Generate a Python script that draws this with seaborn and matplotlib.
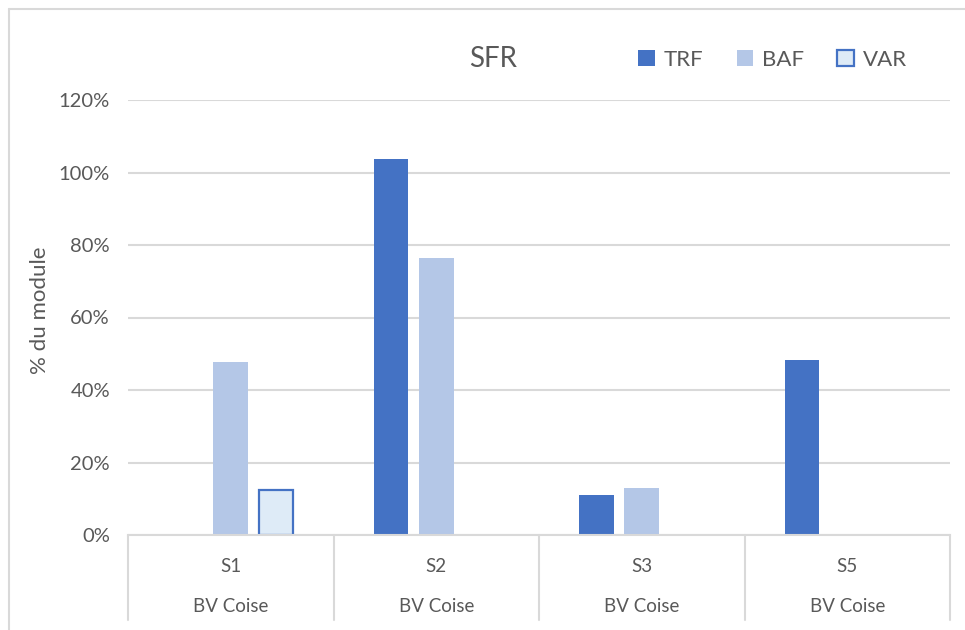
import numpy as np
import pandas as pd
import matplotlib
matplotlib.use("Agg")
import matplotlib.pyplot as plt
from matplotlib.lines import Line2D
from matplotlib.patches import Patch
from matplotlib.ticker import PercentFormatter
import matplotlib.transforms as mtransforms
import seaborn as sns

# ---- data ----
sites = ["S1", "S2", "S3", "S5"]
regions = ["BV Coise", "BV Coise", "BV Coise", "BV Coise"]
series = ["TRF", "BAF", "VAR"]
trf = [np.nan, 1.036, 0.109, 0.483]
baf = [0.476, 0.765, 0.129, np.nan]
var = [0.124, np.nan, np.nan, np.nan]
yticks = [0, 0.2, 0.4, 0.6, 0.8, 1.0, 1.2]

rows = []
for name, vals in zip(series, [trf, baf, var]):
    for s, v in zip(sites, vals):
        if not np.isnan(v):
            rows.append({"site": s, "series": name, "value": v})
df = pd.DataFrame(rows)

sns.set_style("white")
plt.rcParams["font.family"] = ["Lato", "DejaVu Sans"]
TXT = "#595959"
GRID = "#D9D9D9"
colors = {"TRF": "#4472C4", "BAF": "#B4C7E7", "VAR": "#DEEBF7"}

W, H = 965, 630
fig = plt.figure(figsize=(W / 100, H / 100), dpi=100)
fig.patch.set_facecolor("white")
L, R, T, B = 128, 950, 100, 535
ax = fig.add_axes([L / W, 1 - B / H, (R - L) / W, (B - T) / H])

sns.barplot(data=df, x="site", y="value", hue="series", order=sites,
            hue_order=series, palette=colors, width=0.66, gap=0.23,
            ax=ax, legend=False, saturation=1, errorbar=None)

# style bars
for cont, name in zip(ax.containers, series):
    for p in cont:
        if name == "VAR":
            p.set_edgecolor("#4472C4")
            p.set_linewidth(1.6)
        else:
            p.set_edgecolor("none")

ax.set_xlim(-0.5, len(sites) - 0.5)
ax.set_ylim(0, 1.2)
ax.set_yticks(yticks)
ax.yaxis.set_major_formatter(PercentFormatter(xmax=1, decimals=0))
ax.tick_params(axis="y", length=0, pad=13, labelsize=14.5, labelcolor=TXT)
ax.set_xticks([])
ax.set_xlabel("")
ax.set_ylabel("")
ax.grid(axis="y", color=GRID, linewidth=1.5)
ax.set_axisbelow(True)
for s in ["top", "right", "left"]:
    ax.spines[s].set_visible(False)
ax.spines["bottom"].set_color(GRID)
ax.spines["bottom"].set_linewidth(1.5)

# multi-level category axis
trans = mtransforms.blended_transform_factory(ax.transData, ax.transAxes)
depth = (620 - B) / (B - T)
for i in range(len(sites) + 1):
    ax.add_line(Line2D([i - 0.5, i - 0.5], [0, -depth], transform=trans,
                       color=GRID, linewidth=1.5, clip_on=False))
for i, (s, r) in enumerate(zip(sites, regions)):
    ax.text(i, -(566 - B) / (B - T), s, transform=trans, ha="center",
            va="center", fontsize=13.5, color=TXT)
    ax.text(i, -(606 - B) / (B - T), r, transform=trans, ha="center",
            va="center", fontsize=13.5, color=TXT)

# y label
fig.text(40 / W, 1 - 310 / H, "% du module", rotation=90, ha="center",
         va="center", fontsize=16, color=TXT)

# title
fig.text(493 / W, 1 - 59 / H, "SFR", ha="center", va="center",
         fontsize=20, color=TXT)

# legend
handles = [Patch(facecolor=colors["TRF"], edgecolor="none"),
           Patch(facecolor=colors["BAF"], edgecolor="none"),
           Patch(facecolor=colors["VAR"], edgecolor="#4472C4", linewidth=1.6)]
leg = fig.legend(handles, series, loc="center left",
                 bbox_to_anchor=(638 / W, 1 - 60 / H), ncol=3, frameon=False,
                 fontsize=16, handlelength=0.75, handleheight=0.75,
                 handletextpad=0.4, columnspacing=1.5, borderpad=0,
                 borderaxespad=0)
for t in leg.get_texts():
    t.set_color(TXT)

# outer frame
fig.add_artist(Line2D([9 / W, 1], [1 - 9 / H, 1 - 9 / H],
                      transform=fig.transFigure, color=GRID, linewidth=1.5))
fig.add_artist(Line2D([9 / W, 9 / W], [0, 1 - 9 / H],
                      transform=fig.transFigure, color=GRID, linewidth=1.5))

fig.savefig("out.png", dpi=100, facecolor="white")
